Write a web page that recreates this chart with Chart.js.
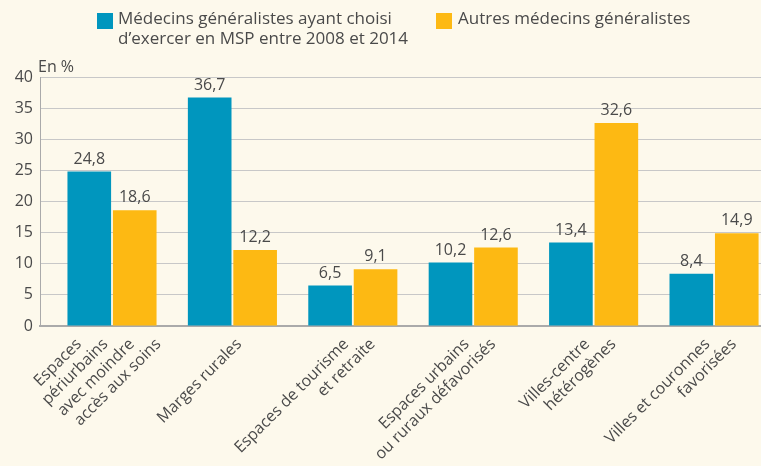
<!DOCTYPE html>
<html><head><meta charset="utf-8">
<script src="https://cdn.jsdelivr.net/npm/chart.js@4"></script>
<style>
html,body{margin:0;padding:0;background:#FDF9EC;overflow:hidden}
#wrap{position:relative;width:761px;height:466px;background:#FDF9EC}
canvas{position:absolute;left:0;top:0}
.leg{position:absolute;font-family:'Open Sans';font-size:17px;color:#4a4a4a;line-height:20px;white-space:nowrap}
.sw{position:absolute;width:16px;height:16px}
</style></head><body>
<div id="wrap">
<canvas id="c" width="761" height="466"></canvas>
<div class="sw" style="left:97px;top:13px;background:#0096BE"></div>
<div class="leg" style="left:118px;top:8px">Médecins généralistes ayant choisi<br>d’exercer en MSP entre 2008 et 2014</div>
<div class="sw" style="left:436px;top:13px;background:#FDB913"></div>
<div class="leg" style="left:458px;top:8px">Autres médecins généralistes</div>
</div>
<script>
const categories = [
  ["Espaces","périurbains","avec moindre","accès aux soins"],
  ["Marges rurales"],
  ["Espaces de tourisme","et retraite"],
  ["Espaces urbains","ou ruraux défavorisés"],
  ["Villes-centre","hétérogènes"],
  ["Villes et couronnes","favorisées"]
];
const mspValues = [24.8, 36.7, 6.5, 10.2, 13.4, 8.4];
const autresValues = [18.6, 12.2, 9.1, 12.6, 32.6, 14.9];
const seriesNames = ["Médecins généralistes ayant choisi d’exercer en MSP entre 2008 et 2014", "Autres médecins généralistes"];
const yTickValues = [0, 5, 10, 15, 20, 25, 30, 35, 40];
const unitLabel = "En %";

const TEXT = '#4a4a4a';
const FONT = 'Open Sans';
Chart.defaults.font.family = FONT;
Chart.defaults.font.size = 16;
Chart.defaults.color = TEXT;

const valueLabels = {
  id: 'valueLabels',
  afterDatasetsDraw(chart) {
    const ctx = chart.ctx;
    ctx.save();
    ctx.font = '16px "' + FONT + '"';
    ctx.fillStyle = TEXT;
    ctx.textAlign = 'center';
    ctx.textBaseline = 'alphabetic';
    chart.data.datasets.forEach((ds, di) => {
      const meta = chart.getDatasetMeta(di);
      meta.data.forEach((el, i) => {
        const v = ds.data[i].y;
        ctx.fillText(String(v).replace('.', ','), el.x, el.y - 8);
      });
    });
    ctx.restore();
  }
};

const catLabels = {
  id: 'catLabels',
  afterDraw(chart) {
    const ctx = chart.ctx;
    const xs = chart.scales.x;
    ctx.save();
    ctx.font = '16px "' + FONT + '"';
    ctx.fillStyle = TEXT;
    ctx.textAlign = 'right';
    ctx.textBaseline = 'top';
    categories.forEach((lines, i) => {
      const cx = xs.getPixelForValue(i);
      const n = lines.length;
      lines.forEach((t, j) => {
        const ex = cx + 1 + 26.5 * (j - (n - 1) / 2);
        const ey = xs.top + 10;
        ctx.save();
        ctx.translate(ex, ey);
        ctx.rotate(-Math.PI / 4);
        ctx.fillText(t, 0, 0);
        ctx.restore();
      });
    });
    ctx.fillStyle = TEXT;
    ctx.textAlign = 'left';
    ctx.textBaseline = 'alphabetic';
    ctx.fillText(unitLabel, chart.chartArea.left - 2, chart.chartArea.top - 5);
    ctx.restore();
  }
};

new Chart(document.getElementById('c'), {
  type: 'bar',
  data: {
    datasets: [
      { label: seriesNames[0], data: mspValues.map((v, i) => ({x: i, y: v})), backgroundColor: '#0096BE',
        categoryPercentage: 0.755, barPercentage: 0.96, borderWidth: 0 },
      { label: seriesNames[1], data: autresValues.map((v, i) => ({x: i, y: v})), backgroundColor: '#FDB913',
        categoryPercentage: 0.755, barPercentage: 0.96, borderWidth: 0 }
    ]
  },
  options: {
    responsive: false,
    animation: false,
    layout: { padding: { top: 77, left: 0, right: 0, bottom: 0 } },
    plugins: { legend: { display: false }, tooltip: { enabled: false }, title: { display: false } },
    scales: {
      x: {
        type: 'linear', min: -0.598, max: 5.39, offset: false, bounds: 'ticks',
        grid: { display: false, offset: false },
        border: { display: true, color: '#aaaaaa', width: 2 },
        ticks: { display: false },
        afterFit(s) { s.height = 140; }
      },
      y: {
        min: 0, max: 40,
        afterBuildTicks(s) { s.ticks = yTickValues.map(v => ({value: v})); },
        ticks: { color: TEXT, padding: 7, font: { size: 16 } },
        grid: { color: '#c8c8c8', tickLength: 0, lineWidth: 1 },
        border: { color: '#aaaaaa', width: 1 },
        afterFit(s) { s.width = 40; }
      }
    }
  },
  plugins: [valueLabels, catLabels]
});
</script>
</body></html>
